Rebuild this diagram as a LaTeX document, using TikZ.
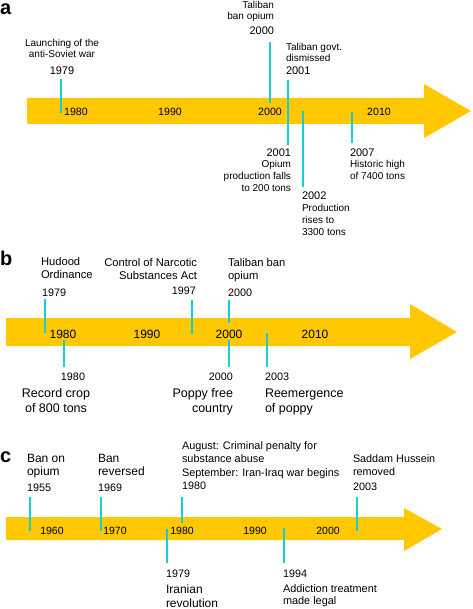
\documentclass[tikz,border=0pt]{standalone}
\usepackage{fontspec}
\setmainfont{Liberation Sans}
\definecolor{tlyellow}{RGB}{255,200,0}
\definecolor{tlcyan}{RGB}{22,206,214}
\begin{document}
\begin{tikzpicture}[x=1pt,y=-1pt,
  band/.style={fill=tlyellow,draw=none},
  tick/.style={draw=tlcyan,line width=2pt},
  txt/.style={inner sep=0pt,outer sep=0pt},
  panel/.style={txt,font=\fontsize{20}{22}\selectfont\bfseries},
  ls/.style 2 args={txt,font=\fontsize{#1}{#2}\selectfont}
]
\useasboundingbox (0,0) rectangle (472,609);

% ---------------- panel a ----------------
\node[panel,anchor=base west] (pa) at (0,15) {a};
\fill[band] (27,98) -- (424,98) -- (424,84) -- (471,111) -- (424,138) -- (424,124) -- (27,124) -- cycle;
\foreach \x/\t in {76/1980,170/1990,270/2000,379/2010}
  \node[ls={10.6}{12},anchor=base] (aax\t) at (\x,116) {\t};
% ticks
\coordinate (a1t) at (61,79);  \coordinate (a1b) at (61,113);
\coordinate (a2t) at (270,42); \coordinate (a2b) at (270,103);
\coordinate (a3t) at (288,80); \coordinate (a3b) at (288,145);
\coordinate (a4t) at (303,111);\coordinate (a4b) at (303,187);
\coordinate (a5t) at (352,112);\coordinate (a5b) at (352,143);
\foreach \n in {1,...,5} \draw[tick] (a\n t) -- (a\n b);
% labels (base anchor = baseline of last line)
\node[ls={10}{11},anchor=base,align=center] (a79d) at (62,58) {Launching of the\\anti-Soviet war};
\node[ls={11}{12},anchor=base] (a79y) at (62,75) {1979};
\node[ls={10}{11},anchor=base east,align=right] (a00d) at (274,20) {Taliban\\ban opium};
\node[ls={11}{12},anchor=base east] (a00y) at (274,35) {2000};
\node[ls={10}{11},anchor=base west,align=left] (a01d) at (286,62) {Taliban govt.\\dismissed};
\node[ls={11}{12},anchor=base west] (a01y) at (286,75) {2001};
\node[ls={11}{12},anchor=base east] (a01by) at (291,157) {2001};
\node[ls={10}{12},anchor=base east,align=right] (a01bd) at (291,192) {Opium\\production falls\\to 200 tons};
\node[ls={11}{12},anchor=base west] (a02y) at (302,200) {2002};
\node[ls={10}{12},anchor=base west,align=left] (a02d) at (302,236) {Production\\rises to\\3300 tons};
\node[ls={11}{12},anchor=base west] (a07y) at (350,157) {2007};
\node[ls={10}{12},anchor=base west,align=left] (a07d) at (350,180) {Historic high\\of 7400 tons};

% ---------------- panel b ----------------
\node[panel,anchor=base west] (pb) at (0,265) {b};
\fill[band] (6,318) -- (410,318) -- (410,304) -- (457,332) -- (410,359) -- (410,346) -- (6,346) -- cycle;
\foreach \x/\t in {63/1980,147/1990,229/2000,315/2010}
  \node[ls={12}{13},anchor=base] (bax\t) at (\x,338) {\t};
\coordinate (b1t) at (45,299);  \coordinate (b1b) at (45,333);
\coordinate (b2t) at (192,300); \coordinate (b2b) at (192,334);
\coordinate (b3t) at (229,300); \coordinate (b3b) at (229,323);
\coordinate (b4t) at (64,340);  \coordinate (b4b) at (64,367);
\coordinate (b5t) at (229,340); \coordinate (b5b) at (229,367);
\coordinate (b6t) at (267,333); \coordinate (b6b) at (267,367);
\foreach \n in {1,...,6} \draw[tick] (b\n t) -- (b\n b);
\node[ls={11.2}{12.8},anchor=base west,align=left] (b79d) at (41,278) {Hudood\\Ordinance};
\node[ls={10.8}{12},anchor=base west] (b79y) at (42,296) {1979};
\node[ls={11.2}{12.5},anchor=base east,align=right] (b97d) at (197,279) {Control of Narcotic\\Substances Act};
\node[ls={10.8}{12},anchor=base east] (b97y) at (196,294) {1997};
\node[ls={11.2}{12.5},anchor=base west,align=left] (b00d) at (228,279) {Taliban ban\\opium};
\node[ls={10.8}{12},anchor=base west] (b00y) at (228,296) {2000};
\node[ls={10.8}{12},anchor=base] (b80y) at (73,380) {1980};
\node[ls={12.5}{15},anchor=base,align=center] (b80d) at (56,412) {Record crop\\of 800 tons};
\node[ls={10.8}{12},anchor=base east] (b00by) at (233,380) {2000};
\node[ls={12.5}{15},anchor=base east,align=right] (b00bd) at (233,412) {Poppy free\\country};
\node[ls={10.8}{12},anchor=base west] (b03y) at (265,380) {2003};
\node[ls={12.5}{15},anchor=base west,align=left] (b03d) at (265,412) {Reemergence\\of poppy};

% ---------------- panel c ----------------
\node[panel,anchor=base west] (pc) at (0,462) {c};
\fill[band] (6,517) -- (404,517) -- (404,508) -- (442,529) -- (404,551) -- (404,540) -- (6,540) -- cycle;
\foreach \x/\t in {52/1960,115/1970,182/1980,255/1990,328/2000}
  \node[ls={10.5}{12},anchor=base] (cax\t) at (\x,534) {\t};
\coordinate (c1t) at (30,497);  \coordinate (c1b) at (30,531);
\coordinate (c2t) at (101,497); \coordinate (c2b) at (101,531);
\coordinate (c3t) at (182,497); \coordinate (c3b) at (182,523);
\coordinate (c4t) at (357,497); \coordinate (c4b) at (357,531);
\coordinate (c5t) at (167,529); \coordinate (c5b) at (167,563);
\coordinate (c6t) at (284,528); \coordinate (c6b) at (284,563);
\foreach \n in {1,...,6} \draw[tick] (c\n t) -- (c\n b);
\node[ls={12}{13},anchor=base west,align=left] (c55d) at (27,475) {Ban on\\opium};
\node[ls={10.8}{12},anchor=base west] (c55y) at (27,491) {1955};
\node[ls={12}{13},anchor=base west,align=left] (c69d) at (98,475) {Ban\\reversed};
\node[ls={10.8}{12},anchor=base west] (c69y) at (98,491) {1969};
\node[ls={10.9}{13.5},anchor=base west,align=left] (c80d) at (182,476) {August: Criminal penalty for\\substance abuse\\September: Iran-Iraq war begins};
\node[ls={10.8}{12},anchor=base west] (c80y) at (182,489) {1980};
\node[ls={10.8}{13},anchor=base west,align=left] (c03d) at (353,475) {Saddam Hussein\\removed};
\node[ls={10.8}{12},anchor=base west] (c03y) at (353,490) {2003};
\node[ls={10.8}{12},anchor=base west] (c79y) at (166,577) {1979};
\node[ls={12}{14},anchor=base west,align=left] (c79d) at (166,607) {Iranian\\revolution};
\node[ls={10.8}{12},anchor=base west] (c94y) at (283,577) {1994};
\node[ls={10.9}{12},anchor=base west,align=left] (c94d) at (283,604) {Addiction treatment\\made legal};
\end{tikzpicture}
\end{document}
